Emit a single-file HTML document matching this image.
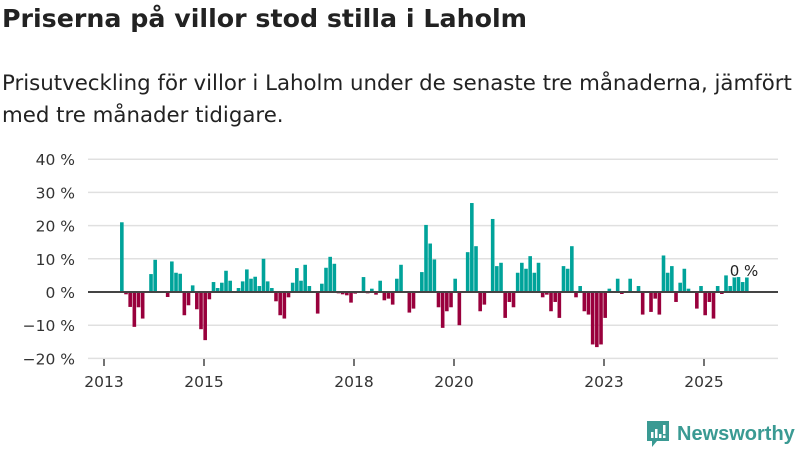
<!DOCTYPE html>
<html><head><meta charset="utf-8"><style>
body{margin:0;width:800px;height:450px;background:#fff;font-family:"DejaVu Sans","Liberation Sans",sans-serif;overflow:hidden;position:relative}
h1{position:absolute;left:2px;top:4px;margin:0;font-size:25.3px;font-weight:bold;color:#222;white-space:nowrap}
.sub{position:absolute;left:2px;top:68px;margin:0;font-size:21.3px;line-height:32px;color:#222;width:800px}
.logo{position:absolute;left:645px;top:420px;display:flex;align-items:center;color:#3a9a93;font-size:20px;font-weight:bold;font-family:"Liberation Sans",sans-serif}
</style></head><body>
<h1>Priserna på villor stod stilla i Laholm</h1>
<p class="sub">Prisutveckling för villor i Laholm under de senaste tre månaderna, jämfört med tre månader tidigare.</p>
<svg id="chart" width="800" height="450" style="position:absolute;left:0;top:0"></svg>
<div class="logo"><svg width="26" height="28" viewBox="0 0 26 28"><path d="M2 1h22v20H12l-5 6v-6H2z" fill="#3a9a93"/><rect x="6" y="12" width="2.5" height="6" fill="#fff"/><rect x="10" y="9" width="2.5" height="9" fill="#fff"/><rect x="14" y="14" width="2.5" height="4" fill="#fff"/><rect x="18" y="5" width="2.5" height="9" fill="#fff"/><rect x="18" y="15.5" width="2.5" height="2.5" fill="#fff"/></svg><span style="margin-left:6px">Newsworthy</span></div>
<script>
const values=[21,-0.7,-4.5,-10.5,-4.6,-8,0,5.4,9.7,0,0,-1.5,9.2,5.8,5.5,-7,-4,2,-5.2,-11.2,-14.5,-2.2,3,1.2,2.8,6.4,3.4,0.3,1.2,3.2,6.8,4,4.6,1.8,10,3.2,
1.2,-2.8,-7,-8,-1.6,2.8,7.2,3.4,8.2,1.8,0,-6.5,2.5,7.3,10.6,8.5,-0.4,-0.7,-1,-3.2,-0.5,0,4.5,-0.4,1,-0.8,3.4,-2.5,-2,-3.8,4,8.2,0,-6.2,-5,0,6,20.2,14.6,9.8,
-4.6,-10.8,-5.8,-4.6,4,-10,0,12,26.8,13.8,-5.8,-3.8,0,22,7.8,8.8,-7.8,-3,-4.6,5.8,8.8,7,10.8,5.8,8.8,-1.6,-0.8,-5.8,-3,-7.8,7.8,7,13.8,-1.6,1.8,-5.8,-6.8,-15.8,-16.6,-15.8,-7.8,
1,0,4,-0.6,0,4,0,1.8,-6.8,0,-6,-2,-6.8,11,5.8,7.8,-3,2.8,7,1,0,-5,1.8,-7,-3,-8,1.8,-0.6,5,1.8,5.8,4.5,3,4.5];
const yTicks=[40,30,20,10,0,-10,-20];
const xTickYears=[2013,2015,2018,2020,2023,2025];
const startYear=2013, startMonth=3.85;
const svg=document.getElementById('chart');
const NS='http://www.w3.org/2000/svg';
const y=v=>292-v*3.32;
const x=t=>104+(t-2013)*50;
function mk(tag,attrs){const e=document.createElementNS(NS,tag);for(const k in attrs)e.setAttribute(k,attrs[k]);svg.appendChild(e);return e;}
yTicks.forEach(v=>{
 const g=mk('line',{x1:88,x2:778,y1:y(v),y2:y(v),stroke:'#e0e0e0','stroke-width':1.5});
 
 
 const t=mk('text',{x:75,y:y(v)+6,'text-anchor':'end','font-size':15.5,fill:'#333'});
 t.textContent=(v<0?'−'+(-v):v)+' %';
 
 
});
xTickYears.forEach(yr=>{
 const l=mk('line',{x1:x(yr),x2:x(yr),y1:359,y2:366,stroke:'#444','stroke-width':1.5});
 
 
 const t=mk('text',{x:x(yr),y:387,'text-anchor':'middle','font-size':15.5,fill:'#333'});
 t.textContent=yr;
 
 
});
values.forEach((v,i)=>{
 const t=startYear+(i+startMonth)/12;
 const r=mk('rect',{x:x(t),width:3.6,y:Math.min(y(v),y(0)),height:Math.abs(y(v)-y(0)),fill:v>=0?'#00a39a':'#99003c'});
 
 
});
const base=mk('line',{x1:88,x2:778,y1:y(0),y2:y(0),stroke:'#444','stroke-width':2});


const lbl=mk('text',{x:744,y:276,'text-anchor':'middle','font-size':15,fill:'#222',stroke:'#fff','stroke-width':3,'paint-order':'stroke'});
lbl.textContent='0 %';


</script>
</body></html>
